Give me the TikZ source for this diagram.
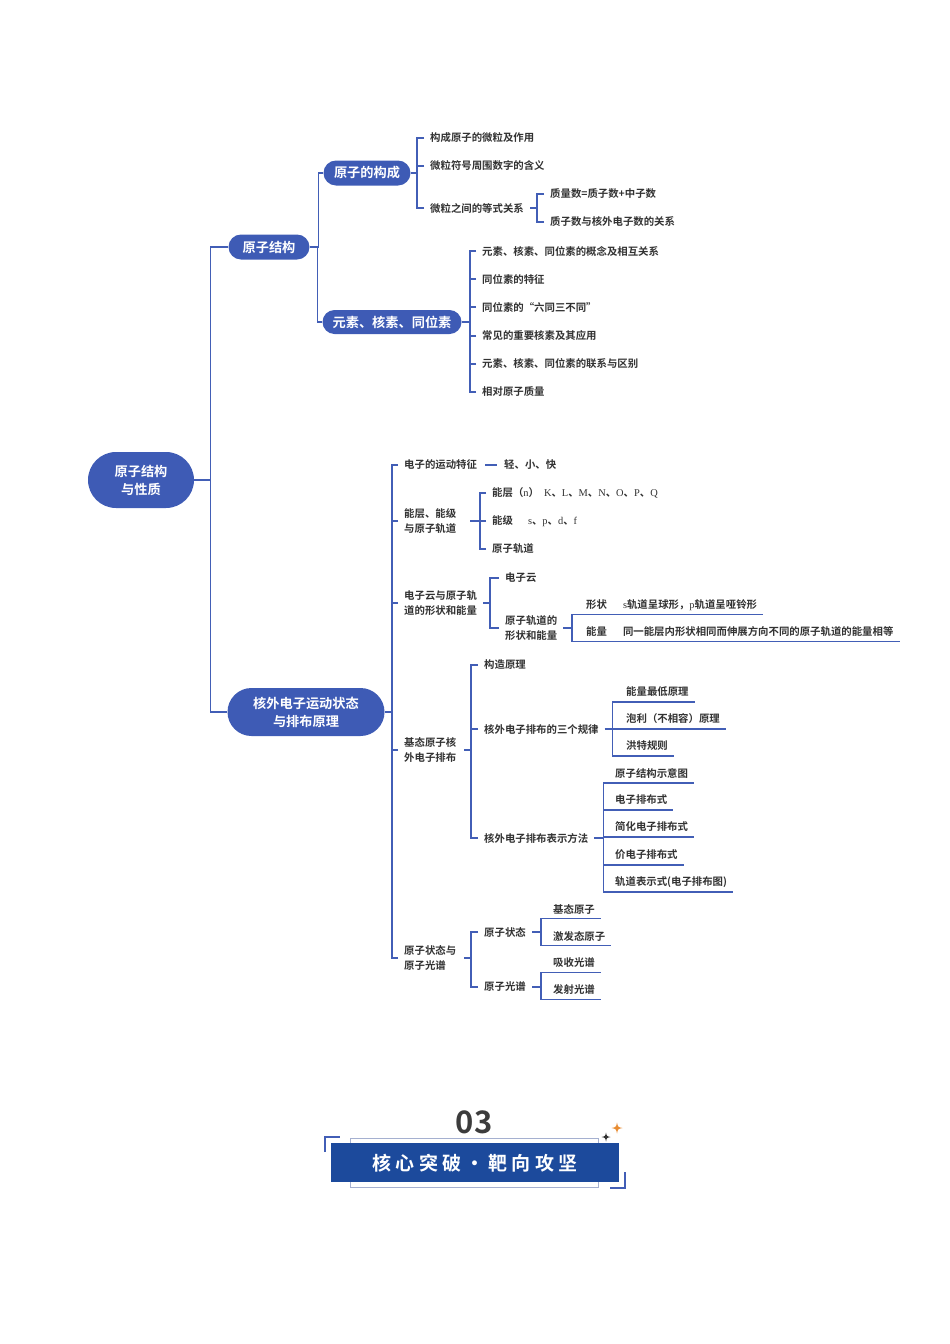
\documentclass[tikz,border=0pt]{standalone}
\usepackage{fontspec}
\setmainfont{Noto Sans CJK SC}[UprightFont=* Medium, BoldFont=* Bold]
\newfontfamily\lat{Liberation Serif}
\usetikzlibrary{shapes.misc}
\definecolor{lineblue}{RGB}{66,94,182}
\definecolor{nodeblue}{RGB}{62,91,181}
\definecolor{bannerblue}{RGB}{28,74,156}
\definecolor{txt}{RGB}{50,50,50}
\definecolor{framec}{RGB}{165,176,208}
\definecolor{spark}{RGB}{232,140,50}
\tikzset{
  ln/.style={draw=lineblue, line width=1.5pt},
  pill/.style={rounded rectangle, fill=nodeblue, text=white, inner sep=0pt,
    font=\bfseries\fontsize{13.2}{18}\selectfont, align=center},
  leaf/.style={anchor=west, inner xsep=6pt, inner ysep=1pt, text=txt,
    font=\bfseries\fontsize{10.4}{15}\selectfont, align=left},
}
\begin{document}
\begin{tikzpicture}[x=1pt,y=-1pt]
\useasboundingbox (0,0) rectangle (950,1344);

% main pills
\node[pill, minimum width=106pt, minimum height=56pt] (root) at (141,480) {原子结构\\与性质};
\node[pill, minimum width=81pt, minimum height=25pt] (n1) at (269,247) {原子结构};
\node[pill, minimum width=157pt, minimum height=48pt] (n2) at (306,712) {核外电子运动状态\\与排布原理};
\node[pill, minimum width=87pt, minimum height=25pt] (n11) at (367,173) {原子的构成};
\node[pill, minimum width=139pt, minimum height=24pt] (n12) at (392,322) {元素、核素、同位素};

\draw[ln] (n1.west) -- ++(-18,0) |- (root.east);
\draw[ln] (n2.west) -- ++(-17,0) |- (root.east);
\draw[ln] (n11.west) -- ++(-5,0) |- (n1.east);
\draw[ln] (n12.west) -- ++(-5,0) |- (n1.east);

% 原子的构成
\node[leaf] (a1) at (424,138) {构成原子的微粒及作用};
\node[leaf] (a2) at (424,166) {微粒符号周围数字的含义};
\node[leaf] (a3) at (424,208) {微粒之间的等式关系};
\foreach \c in {a1,a2,a3} \draw[ln] (\c.west) -- ++(-7,0) |- (n11.east);
\node[leaf] (b1) at (544,194) {质量数=质子数+中子数};
\node[leaf] (b2) at (544,222) {质子数与核外电子数的关系};
\foreach \c in {b1,b2} \draw[ln] (\c.west) -- ++(-7,0) |- (a3.east);

% 元素、核素、同位素
\node[leaf] (c1) at (476,251) {元素、核素、同位素的概念及相互关系};
\node[leaf] (c2) at (476,279) {同位素的特征};
\node[leaf] (c3) at (476,307) {同位素的“六同三不同”};
\node[leaf] (c4) at (476,336) {常见的重要核素及其应用};
\node[leaf] (c5) at (476,364) {元素、核素、同位素的联系与区别};
\node[leaf] (c6) at (476,392) {相对原子质量};
\foreach \c in {c1,c2,c3,c4,c5,c6} \draw[ln] (\c.west) -- ++(-6,0) |- (n12.east);

% 核外电子运动状态
\node[leaf] (d1) at (398,465) {电子的运动特征};
\node[leaf] (d2) at (398,521) {能层、能级\\与原子轨道};
\node[leaf] (d3) at (398,603) {电子云与原子轨\\道的形状和能量};
\node[leaf] (d4) at (398,750) {基态原子核\\外电子排布};
\node[leaf] (d5) at (398,958) {原子状态与\\原子光谱};
\foreach \c in {d1,d2,d3,d4,d5} \draw[ln] (\c.west) -- ++(-6,0) |- (n2.east);

\node[leaf] (d1x) at (498,465) {轻、小、快};
\draw[ln] ([xshift=2pt]d1.east) -- ([xshift=-1pt]d1x.west);

\node[leaf] (e1) at (486,493) {能层（{\lat\mdseries n}）\hspace{5pt}{\lat\mdseries K}、{\lat\mdseries L}、{\lat\mdseries M}、{\lat\mdseries N}、{\lat\mdseries O}、{\lat\mdseries P}、{\lat\mdseries Q}};
\node[leaf] (e2) at (486,521) {能级\hspace{15pt}{\lat\mdseries s}、{\lat\mdseries p}、{\lat\mdseries d}、{\lat\mdseries f}};
\node[leaf] (e3) at (486,549) {原子轨道};
\foreach \c in {e1,e2,e3} \draw[ln] (\c.west) -- ++(-6,0) |- ([xshift=8pt]d2.east);

\node[leaf] (f1) at (499,578) {电子云};
\node[leaf] (f2) at (499,628) {原子轨道的\\形状和能量};
\foreach \c in {f1,f2} \draw[ln] (\c.west) -- ++(-9,0) |- (d3.east);

\node[leaf] (g1) at (580,605) {形状\hspace{16pt}{\lat\mdseries s}轨道呈球形，{\lat\mdseries p}轨道呈哑铃形};
\node[leaf] (g2) at (580,632) {能量\hspace{16pt}同一能层内形状相同而伸展方向不同的原子轨道的能量相等};
\foreach \c in {g1,g2} \draw[ln] (f2.east) -- ++(8.5,0) |- ([yshift=-9.5pt]\c.east);

\node[leaf] (h1) at (478,665) {构造原理};
\node[leaf] (h2) at (478,729) {核外电子排布的三个规律};
\node[leaf] (h3) at (478,838) {核外电子排布表示方法};
\foreach \c in {h1,h2,h3} \draw[ln] (\c.west) -- ++(-7,0) |- ([xshift=2pt]d4.east);

\node[leaf] (i1) at (620,692) {能量最低原理};
\node[leaf] (i2) at (620,719) {泡利（不相容）原理};
\node[leaf] (i3) at (620,746) {洪特规则};
\foreach \c in {i1,i2,i3} \draw[ln] (h2.east) -- ++(7.5,0) |- ([yshift=-10pt]\c.east);

\node[leaf] (j1) at (609,773) {原子结构示意图};
\node[leaf] (j2) at (609,800) {电子排布式};
\node[leaf] (j3) at (609,827) {简化电子排布式};
\node[leaf] (j4) at (609,855) {价电子排布式};
\node[leaf] (j5) at (609,882) {轨道表示式(电子排布图)};
\foreach \c in {j1,j2,j3,j4,j5} \draw[ln] (h3.east) -- ++(9,0) |- ([yshift=-10pt]\c.east);

\node[leaf] (k1) at (478,932) {原子状态};
\node[leaf] (k2) at (478,987) {原子光谱};
\foreach \c in {k1,k2} \draw[ln] (\c.west) -- ++(-7,0) |- ([xshift=2pt]d5.east);

\node[leaf] (l1) at (547,909) {基态原子};
\node[leaf] (l2) at (547,936) {激发态原子};
\foreach \c in {l1,l2} \draw[ln] (k1.east) -- ++(9,0) |- ([yshift=-9.5pt]\c.east);
\node[leaf] (m1) at (547,963) {吸收光谱};
\node[leaf] (m2) at (547,990) {发射光谱};
\foreach \c in {m1,m2} \draw[ln] (k2.east) -- ++(9,0) |- ([yshift=-9.5pt]\c.east);

% banner
\node[text={rgb,255:red,60;green,60;blue,60}, font=\bfseries\fontsize{31}{31}\selectfont] (num) at (474,1122) {03};
\draw[framec, line width=1pt] (350,1138) rectangle (598,1187);
\fill[bannerblue] (331,1143) rectangle (619,1182);
\node[text=white, font=\bfseries\fontsize{19}{19}\selectfont] (ban) at (475,1163) {\addfontfeatures{LetterSpace=22}核心突破・靶向攻坚};
\draw[lineblue, line width=1.5pt] (325,1152) -- (325,1137) -- (340,1137);
\draw[lineblue, line width=1.5pt] (625,1172) -- (625,1188) -- (610,1188);
\fill[black!80] (606,1132.5) .. controls (606.8,1136.2) .. (610.5,1137) .. controls (606.8,1137.8) .. (606,1141.5) .. controls (605.2,1137.8) .. (601.5,1137) .. controls (605.2,1136.2) .. cycle;
\fill[spark] (617,1122.5) .. controls (617.9,1127.1) .. (622.5,1128) .. controls (617.9,1128.9) .. (617,1133.5) .. controls (616.1,1128.9) .. (611.5,1128) .. controls (616.1,1127.1) .. cycle;
\end{tikzpicture}
\end{document}
